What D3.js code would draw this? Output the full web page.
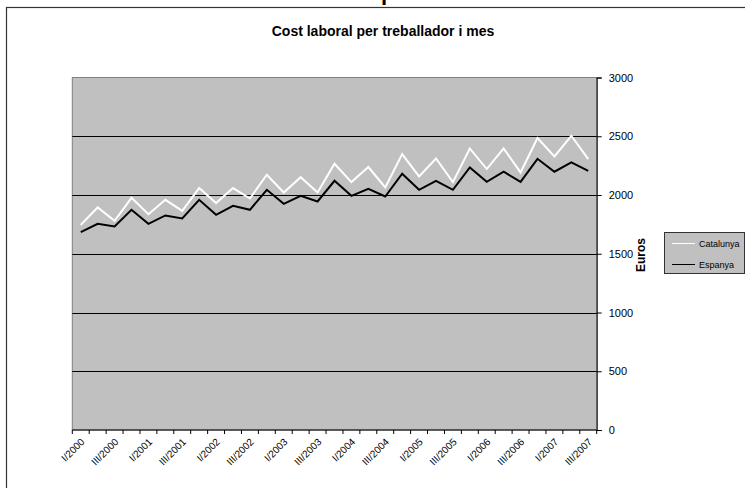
<!DOCTYPE html>
<html>
<head>
<meta charset="utf-8">
<script src="https://cdn.jsdelivr.net/npm/d3@7"></script>
<style>
  html, body { margin: 0; padding: 0; background: #fff; }
  svg { display: block; font-family: "Liberation Sans", Arial, sans-serif; }
</style>
</head>
<body>
<svg id="chart" width="745" height="488"></svg>
<script>
// ---- data ----
const categories = [
  "I/2000","II/2000","III/2000","IV/2000",
  "I/2001","II/2001","III/2001","IV/2001",
  "I/2002","II/2002","III/2002","IV/2002",
  "I/2003","II/2003","III/2003","IV/2003",
  "I/2004","II/2004","III/2004","IV/2004",
  "I/2005","II/2005","III/2005","IV/2005",
  "I/2006","II/2006","III/2006","IV/2006",
  "I/2007","II/2007","III/2007"
];
const catalunya = [1746,1894,1780,1976,1837,1959,1865,2059,1931,2059,1970,2172,2021,2152,2021,2266,
                   2110,2238,2064,2348,2158,2311,2110,2396,2221,2396,2192,2485,2328,2504,2306];
const espanya   = [1684,1755,1732,1874,1755,1826,1800,1959,1831,1908,1874,2044,1925,1993,1945,2121,
                   1993,2053,1987,2181,2044,2121,2044,2234,2112,2198,2112,2308,2198,2277,2206];
const yTicks = [0, 500, 1000, 1500, 2000, 2500, 3000];
const seriesNames = ["Catalunya", "Espanya"];
const titleText = "Cost laboral per treballador i mes";
const yAxisTitle = "Euros";

// ---- layout ----
const svg = d3.select("#chart");
const plot = { left: 72.3, right: 596.7, top: 77.5, bottom: 430 };

const x = d3.scaleBand().domain(categories).range([plot.left, plot.right]);
const y = d3.scaleLinear().domain([0, 3000]).range([plot.bottom, plot.top]);

// outer chart border (extends beyond the visible window)
svg.append("rect")
  .attr("x", 6.5).attr("y", 7.5).attr("width", 800).attr("height", 600)
  .attr("fill", "#fff").attr("stroke", "#333").attr("stroke-width", 1.2);

// cut-off glyph of a heading above the chart
svg.append("text")
  .attr("x", 381).attr("y", 0)
  .attr("font-size", 22).attr("font-weight", "bold").attr("fill", "#000")
  .text("p");

// plot background
svg.append("rect")
  .attr("x", plot.left).attr("y", plot.top)
  .attr("width", plot.right - plot.left).attr("height", plot.bottom - plot.top)
  .attr("fill", "#c0c0c0").attr("stroke", "#808080").attr("stroke-width", 1);

// gridlines
svg.append("g").selectAll("line")
  .data(yTicks.filter(d => d > 0 && d < 3000))
  .join("line")
  .attr("x1", plot.left).attr("x2", plot.right)
  .attr("y1", d => Math.round(y(d)) + 0.5).attr("y2", d => Math.round(y(d)) + 0.5)
  .attr("stroke", "#000").attr("stroke-width", 1);

// right y axis
const yAxis = d3.axisRight(y).tickValues(yTicks).tickSize(5).tickPadding(7)
  .tickFormat(d3.format("d"));
const gy = svg.append("g")
  .attr("transform", `translate(${plot.right},0)`)
  .call(yAxis);
gy.select(".domain").attr("stroke", "#000");
gy.selectAll(".tick line").attr("stroke", "#000");
gy.selectAll(".tick text").attr("font-size", 11).attr("fill", "#000")
  .attr("font-family", "Liberation Sans, Arial, sans-serif");

// x axis line
svg.append("line")
  .attr("x1", plot.left).attr("x2", plot.right)
  .attr("y1", plot.bottom).attr("y2", plot.bottom)
  .attr("stroke", "#000").attr("stroke-width", 1.2);

// x category boundary ticks
const boundaries = categories.map(c => x(c)).concat([x(categories[categories.length - 1]) + x.bandwidth()]);
svg.append("g").selectAll("line")
  .data(boundaries)
  .join("line")
  .attr("x1", d => d).attr("x2", d => d)
  .attr("y1", plot.bottom).attr("y2", plot.bottom + 4)
  .attr("stroke", "#000").attr("stroke-width", 1);

// x labels (every other category), rotated -45
svg.append("g").selectAll("text")
  .data(categories.filter((d, i) => i % 2 === 0))
  .join("text")
  .attr("transform", d => `translate(${x(d) + x.bandwidth() / 2 + 2},${plot.bottom + 10}) rotate(-45)`)
  .attr("text-anchor", "end")
  .attr("dy", "0.35em")
  .attr("font-size", 10)
  .attr("fill", "#000")
  .text(d => d);

// lines
const line = d3.line()
  .x((d, i) => x(categories[i]) + x.bandwidth() / 2)
  .y(d => y(d));

svg.append("path").datum(catalunya)
  .attr("d", line).attr("fill", "none")
  .attr("stroke", "#fff").attr("stroke-width", 2).attr("stroke-linejoin", "miter");
svg.append("path").datum(espanya)
  .attr("d", line).attr("fill", "none")
  .attr("stroke", "#000").attr("stroke-width", 2).attr("stroke-linejoin", "miter");

// chart title
svg.append("text")
  .attr("x", 383).attr("y", 36)
  .attr("text-anchor", "middle")
  .attr("font-size", 14).attr("font-weight", "bold").attr("fill", "#000")
  .text(titleText);

// y axis title (rotated)
svg.append("text")
  .attr("transform", "translate(645,255) rotate(-90)")
  .attr("text-anchor", "middle")
  .attr("font-size", 12).attr("font-weight", "bold").attr("fill", "#000")
  .text(yAxisTitle);

// legend
const legend = svg.append("g");
legend.append("rect")
  .attr("x", 664.5).attr("y", 232.5).attr("width", 80).attr("height", 41)
  .attr("fill", "#c0c0c0").attr("stroke", "#333").attr("stroke-width", 1);
const legendColors = ["#fff", "#000"];
const ly = d3.scalePoint().domain(seriesNames).range([243.5, 264.5]);
seriesNames.forEach((name, i) => {
  legend.append("line")
    .attr("x1", 672).attr("x2", 695)
    .attr("y1", ly(name)).attr("y2", ly(name))
    .attr("stroke", legendColors[i]).attr("stroke-width", 1);
  legend.append("text")
    .attr("x", 699).attr("y", ly(name))
    .attr("dy", "0.35em")
    .attr("font-size", 9).attr("fill", "#000")
    .text(name);
});
</script>
</body>
</html>
